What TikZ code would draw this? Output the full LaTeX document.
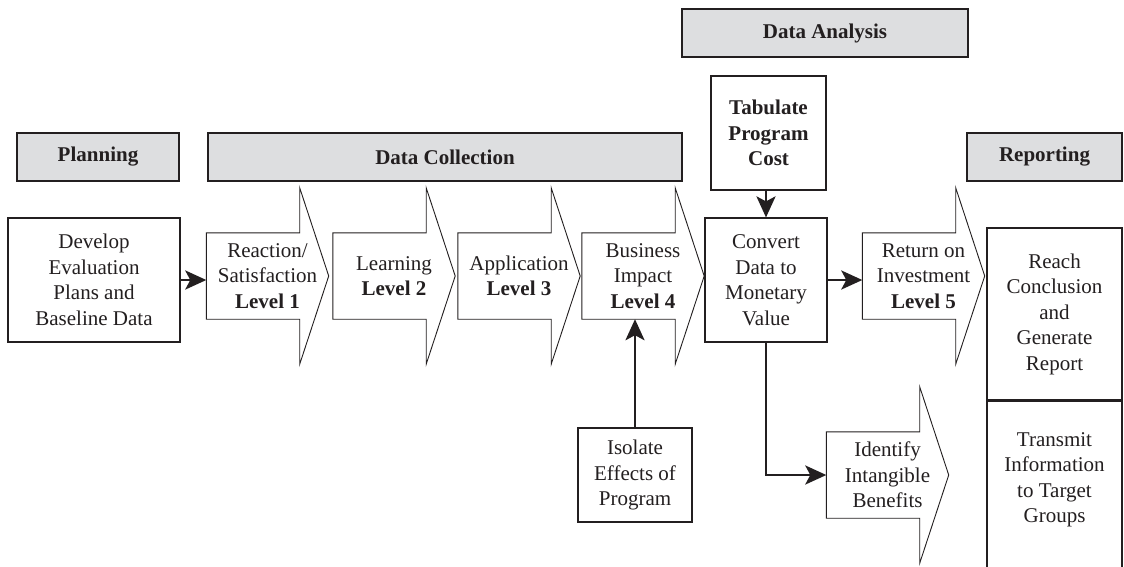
\documentclass[tikz,border=0pt]{standalone}
\usepackage{fontspec}
\setmainfont{Liberation Serif}
\usetikzlibrary{arrows.meta,calc}
\definecolor{hdrgray}{RGB}{221,222,224}
\definecolor{ink}{RGB}{35,31,32}
\newcommand\arrowoutline[1]{%
  \draw[outline] (#1.south west) -- (#1.north west) -- ([xshift=-29pt]#1.north east)
    -- ([xshift=-29pt,yshift=45pt]#1.north east) -- (#1.east)
    -- ([xshift=-29pt,yshift=-45pt]#1.south east) -- ([xshift=-29pt]#1.south east) -- cycle;}
\begin{document}
\begin{tikzpicture}[x=1pt,y=-1pt,
  every node/.style={font=\fontsize{21}{25.5}\selectfont, text=ink, align=center, inner sep=0pt},
  hdr/.style={draw=ink, fill=hdrgray, line width=1.2pt, minimum height=48pt,
    font=\fontsize{21}{25.5}\selectfont\bfseries},
  box/.style={draw=ink, line width=1.2pt},
  arr/.style={minimum width=122pt, minimum height=86pt},
  outline/.style={draw=ink, line width=0.9pt, line join=miter},
  conn/.style={draw=ink, line width=2.8pt, -{Stealth[length=21pt,width=19pt,inset=5pt]}}]
\useasboundingbox (0,0) rectangle (1124,566);
\clip (0,0) rectangle (1124,566);
\fill[white] (0,0) rectangle (1124,566);

% headers
\node[hdr, minimum width=162pt] (plan) at (98,157) {Planning};
\node[hdr, minimum width=474pt] (dcoll) at (445,157) {Data Collection};
\node[hdr, minimum width=286pt] (danal) at (825,33) {Data Analysis};
\node[hdr, minimum width=155pt] (rep) at (1044.5,157) {Reporting};

% main row
\node[box, minimum width=172pt, minimum height=124pt] (dev) at (94,280)
  {Develop\\Evaluation\\Plans and\\Baseline Data};
\node[arr] (a1) at (267.5,276) {Reaction/\\Satisfaction\\\textbf{Level 1}};
\node[arr] (a2) at (394,276) {Learning\\\textbf{Level 2}};
\node[arr] (a3) at (519,276) {Application\\\textbf{Level 3}};
\node[arr] (a4) at (643,276) {Business\\Impact\\\textbf{Level 4}};
\node[box, minimum width=115pt, minimum height=114pt,
  font=\fontsize{21}{25.5}\selectfont\bfseries] (tab) at (768.5,133) {Tabulate\\Program\\Cost};
\node[box, minimum width=122pt, minimum height=124pt] (conv) at (766,280)
  {Convert\\Data to\\Monetary\\Value};
\node[arr] (roi) at (923.5,276) {Return on\\Investment\\\textbf{Level 5}};
\node[box, minimum width=135pt, minimum height=172pt] (reach) at (1054.5,314)
  {Reach\\Conclusion\\and\\Generate\\Report};
\node[box, minimum width=135pt, minimum height=180pt, anchor=north] (transbox) at (reach.south) {};
\node (trans) at (1054.5,480) {Transmit\\Information\\to Target\\Groups};
\node[box, minimum width=114pt, minimum height=94pt] (iso) at (635,475)
  {Isolate\\Effects of\\Program};
\node[arr] (ident) at (887.5,475) {Identify\\Intangible\\Benefits};

\arrowoutline{a1}
\arrowoutline{a2}
\arrowoutline{a3}
\arrowoutline{a4}
\arrowoutline{roi}
\arrowoutline{ident}

% connectors
\draw[conn] (dev.east) -- (dev.east -| a1.west);
\draw[conn] (conv.east) -- (conv.east -| roi.west);
\draw[conn] (tab.south -| conv.north) -- (conv.north);
\draw[conn] (iso.north) -- (iso.north |- a4.south);
\draw[conn] (conv.south) |- (ident.west);
\end{tikzpicture}
\end{document}
